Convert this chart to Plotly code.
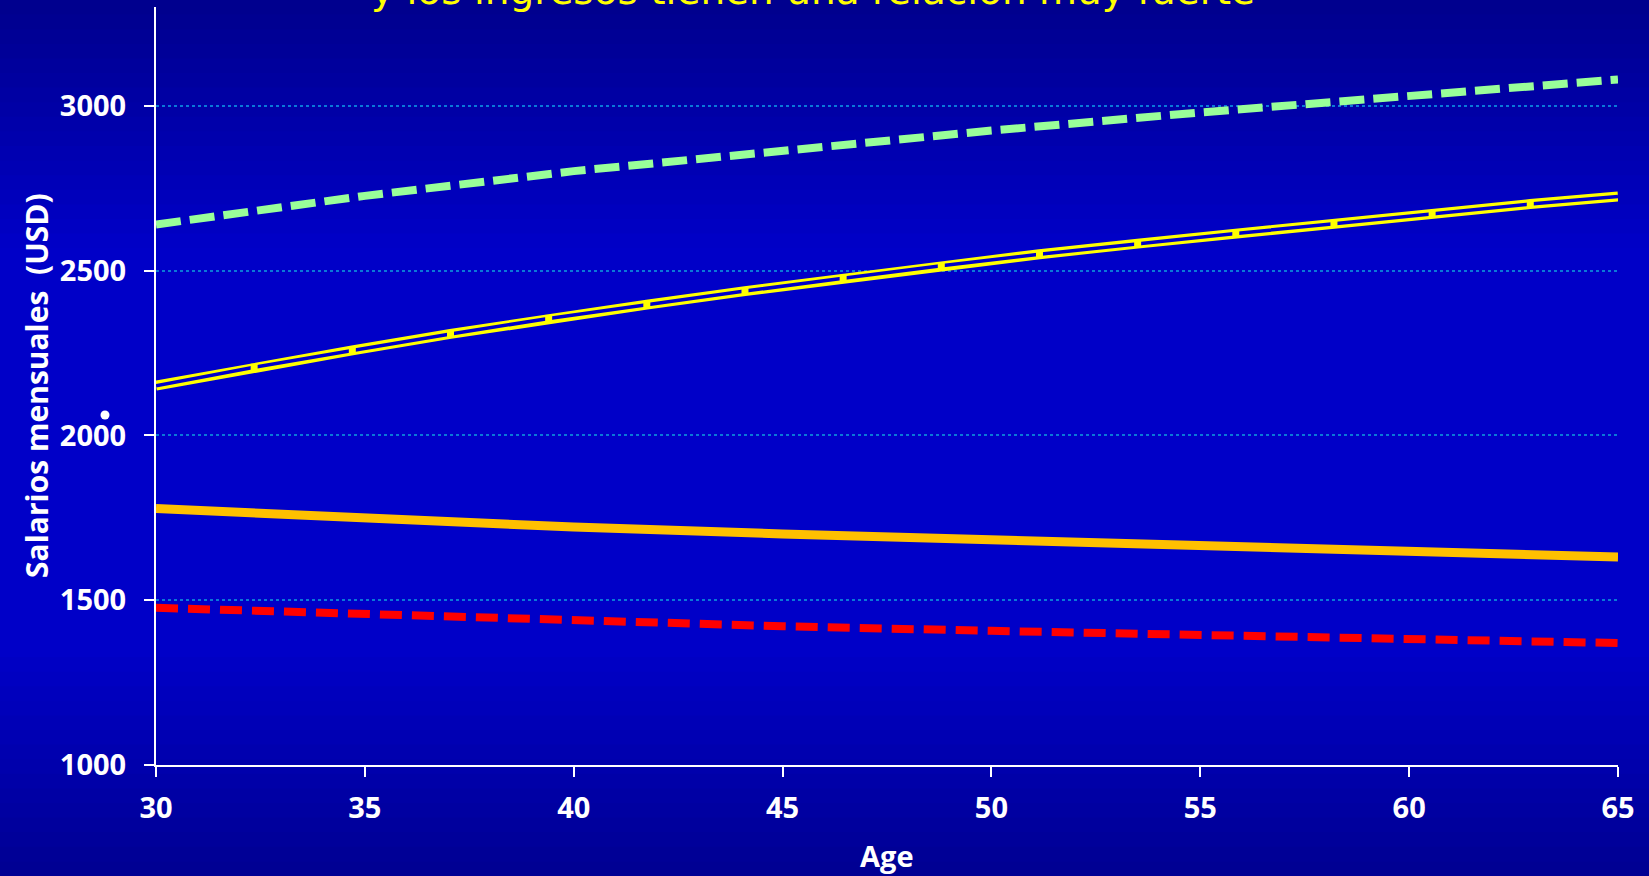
import plotly.graph_objects as go

# ---------------- data ----------------
ages = [30, 35, 40, 45, 50, 55, 60, 65]
green_dashed = [2640, 2727, 2802, 2866, 2925, 2980, 3032, 3080]
orange_solid = [1778, 1749, 1722, 1701, 1684, 1664, 1647, 1631]
red_dashed = [1477, 1457, 1438, 1421, 1407, 1394, 1382, 1370]

yellow_ages = [30, 32.35, 34.7, 37.05, 39.4, 41.75, 44.1, 46.45, 48.8,
               51.15, 53.5, 55.85, 58.2, 60.55, 62.9, 65]
yellow_double = [2151, 2207, 2258, 2308, 2355, 2397, 2438, 2477, 2515,
                 2550, 2582, 2613, 2642, 2673, 2702, 2725]
marker_ages = yellow_ages[1:-1]
marker_vals = yellow_double[1:-1]

x_ticks = [30, 35, 40, 45, 50, 55, 60, 65]
y_ticks = [1000, 1500, 2000, 2500, 3000]

title_text = "y los ingresos tienen una relación muy fuerte"
x_title = "Age"
y_title = "Salarios mensuales  (USD)"

# ---------------- layout constants ----------------
W, H = 1649, 876
L, R, T, B = 156, 31, 7, 111
PW, PH = W - L - R, H - T - B
INNER_BG = "rgb(0,0,200)"


def px_to_paper_x(px):
    return (px - L) / PW


def px_to_paper_y(py):
    return (H - B - py) / PH


fig = go.Figure()

fig.add_trace(go.Scatter(x=ages, y=green_dashed, mode="lines",
                         line=dict(color="#99FF99", width=8, dash="25px,9px"),
                         hoverinfo="skip", showlegend=False))
fig.add_trace(go.Scatter(x=yellow_ages, y=yellow_double, mode="lines",
                         line=dict(color="#FFFF00", width=10),
                         hoverinfo="skip", showlegend=False))
fig.add_trace(go.Scatter(x=yellow_ages, y=yellow_double, mode="lines",
                         line=dict(color=INNER_BG, width=3.5),
                         hoverinfo="skip", showlegend=False))
fig.add_trace(go.Scatter(x=marker_ages, y=marker_vals, mode="markers",
                         marker=dict(color="#FFFF00", size=7, symbol="square"),
                         hoverinfo="skip", showlegend=False))
fig.add_trace(go.Scatter(x=ages, y=orange_solid, mode="lines",
                         line=dict(color="#FFC000", width=9),
                         hoverinfo="skip", showlegend=False))
fig.add_trace(go.Scatter(x=ages, y=red_dashed, mode="lines",
                         line=dict(color="#FF0000", width=8, dash="22px,10px"),
                         hoverinfo="skip", showlegend=False))

# background vertical gradient (page coordinates)
stops = [(0, 140), (250, 200), (650, 200), (876, 145)]


def blue_at(py):
    for (y0, c0), (y1, c1) in zip(stops[:-1], stops[1:]):
        if y0 <= py <= y1:
            return c0 + (c1 - c0) * (py - y0) / (y1 - y0)
    return stops[-1][1]


shapes = []
n = 60
for i in range(n):
    p0 = H * i / n
    p1 = H * (i + 1) / n + 1
    b = int(round(blue_at((p0 + p1) / 2)))
    shapes.append(dict(type="rect", xref="paper", yref="paper", layer="below",
                       x0=px_to_paper_x(-5), x1=px_to_paper_x(W + 5),
                       y0=px_to_paper_y(p1), y1=px_to_paper_y(p0),
                       line=dict(width=0), fillcolor=f"rgb(0,0,{b})"))
# small white dot left of the axis
cx, cy, r = 105, 415, 4.5
shapes.append(dict(type="circle", xref="paper", yref="paper", layer="above",
                   x0=px_to_paper_x(cx - r), x1=px_to_paper_x(cx + r),
                   y0=px_to_paper_y(cy + r), y1=px_to_paper_y(cy - r),
                   line=dict(width=0), fillcolor="white"))

tick_font = dict(family="Open Sans", size=29, color="white", weight="bold")

fig.update_layout(
    width=W, height=H,
    margin=dict(l=L, r=R, t=T, b=B),
    paper_bgcolor="rgb(0,0,170)",
    plot_bgcolor="rgba(0,0,0,0)",
    shapes=shapes,
    xaxis=dict(range=[30, 65], tickvals=x_ticks, ticktext=[str(v) for v in x_ticks],
               showgrid=False, zeroline=False, showline=True, linecolor="white",
               linewidth=2, ticks="outside", ticklen=10, tickwidth=2,
               tickcolor="white", tickfont=tick_font, ticklabelstandoff=6),
    yaxis=dict(range=[1000, 3300], tickvals=y_ticks, ticktext=[str(v) for v in y_ticks],
               showgrid=True, gridcolor="#0A78D8", gridwidth=1.5, griddash="dot",
               zeroline=False, showline=True, linecolor="white", linewidth=2,
               ticks="outside", ticklen=10, tickwidth=2, tickcolor="white",
               tickfont=tick_font, ticklabelstandoff=12),
    annotations=[
        dict(text=title_text, xref="paper", yref="paper",
             x=px_to_paper_x(813), y=px_to_paper_y(15), xanchor="center",
             yanchor="bottom", showarrow=False,
             font=dict(family="DejaVu Sans", size=39, color="#FFFF00")),
        dict(text=x_title, xref="paper", yref="paper",
             x=px_to_paper_x(887), y=px_to_paper_y(855), xanchor="center",
             yanchor="middle", showarrow=False,
             font=dict(family="Open Sans", size=29, color="white", weight="bold")),
        dict(text=y_title, xref="paper", yref="paper", textangle=-90,
             x=px_to_paper_x(36), y=0.5, xanchor="center", yanchor="middle",
             showarrow=False,
             font=dict(family="Open Sans", size=30, color="white", weight="bold")),
    ],
)

fig.write_html(
    "out.html",
    config={"displayModeBar": False},
    post_script="document.body.style.margin='0';document.body.style.overflow='hidden';",
)
